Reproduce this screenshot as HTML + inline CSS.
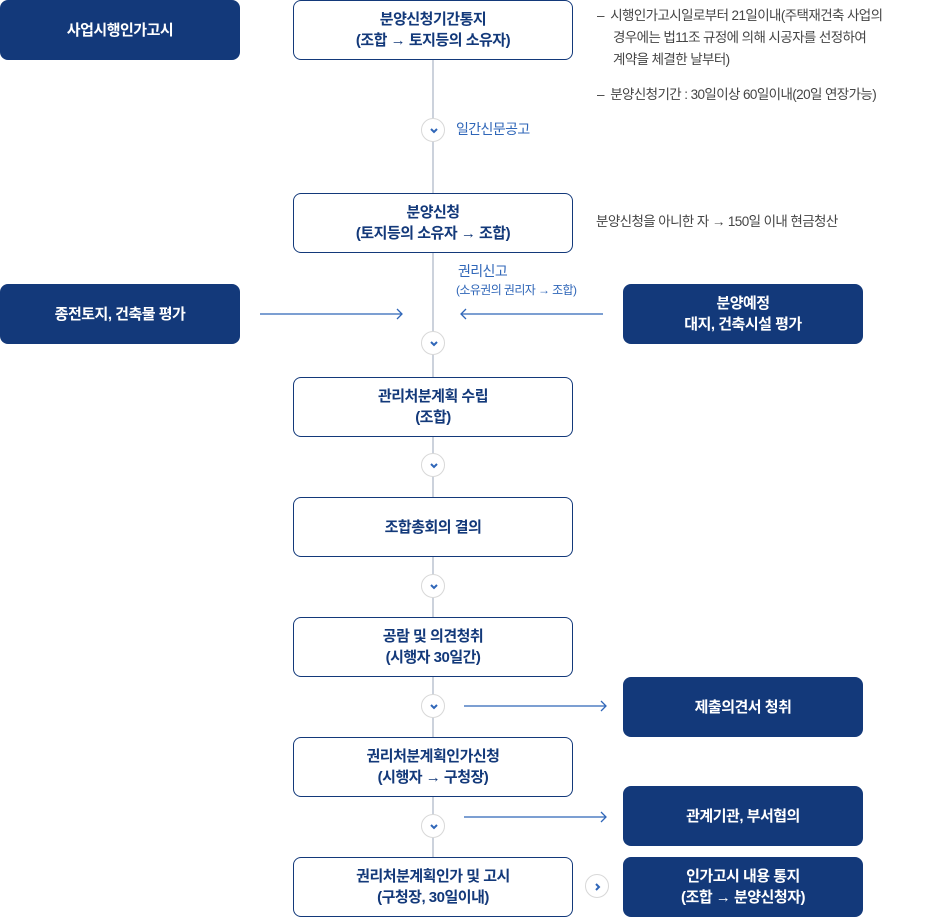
<!DOCTYPE html>
<html><head><meta charset="utf-8"><style>
body{margin:0;width:938px;height:917px;background:#fff;position:relative;overflow:hidden;font-family:"Liberation Sans","Noto Sans CJK KR",sans-serif;}
.b{position:absolute;box-sizing:border-box;border-radius:8px;display:flex;align-items:center;justify-content:center;text-align:center;font-weight:bold;font-size:15px;line-height:21px;letter-spacing:-0.5px}
.d{background:#13397a;color:#fff}
.w{background:#fff;border:1px solid #13397a;color:#13397a}
.c{position:absolute;width:24px;height:24px;border:1px solid #d8d8d8;border-radius:50%;background:#fff;box-sizing:border-box}
.c svg{position:absolute;left:6px;top:6px}
.t{position:absolute;font-size:13.5px;color:#444;line-height:22px;letter-spacing:-0.6px}
.bl{color:#2f66b8}
</style></head><body>
<svg style="position:absolute;left:0;top:0" width="938" height="917">
<line x1="433" y1="60" x2="433" y2="857" stroke="#9aa6b8" stroke-width="1"/>
<g stroke="#2f66b8" stroke-width="1.3" fill="none">
<line x1="260" y1="314" x2="402" y2="314"/><polyline points="397,309 402,314 397,319"/>
<line x1="461" y1="314" x2="603" y2="314"/><polyline points="466,309 461,314 466,319"/>
<line x1="464" y1="706" x2="606" y2="706"/><polyline points="601,701 606,706 601,711"/>
<line x1="464" y1="817" x2="606" y2="817"/><polyline points="601,812 606,817 601,822"/>
</g>
</svg>
<div class="b d" style="left:0;top:0;width:240px;height:60px">사업시행인가고시</div>
<div class="b d" style="left:0;top:284px;width:240px;height:60px">종전토지, 건축물 평가</div>
<div class="b d" style="left:623px;top:284px;width:240px;height:60px">분양예정<br>대지, 건축시설 평가</div>
<div class="b d" style="left:623px;top:677px;width:240px;height:60px">제출의견서 청취</div>
<div class="b d" style="left:623px;top:786px;width:240px;height:60px">관계기관, 부서협의</div>
<div class="b d" style="left:623px;top:857px;width:240px;height:60px">인가고시 내용 통지<br>(조합 → 분양신청자)</div>
<div class="b w" style="left:293px;top:0;width:280px;height:60px">분양신청기간통지<br>(조합 → 토지등의 소유자)</div>
<div class="b w" style="left:293px;top:193px;width:280px;height:60px">분양신청<br>(토지등의 소유자 → 조합)</div>
<div class="b w" style="left:293px;top:377px;width:280px;height:60px">관리처분계획 수립<br>(조합)</div>
<div class="b w" style="left:293px;top:497px;width:280px;height:60px">조합총회의 결의</div>
<div class="b w" style="left:293px;top:617px;width:280px;height:60px">공람 및 의견청취<br>(시행자 30일간)</div>
<div class="b w" style="left:293px;top:737px;width:280px;height:60px">권리처분계획인가신청<br>(시행자 → 구청장)</div>
<div class="b w" style="left:293px;top:857px;width:280px;height:60px">권리처분계획인가 및 고시<br>(구청장, 30일이내)</div>
<div class="c" style="left:421px;top:118px"><svg width="12" height="12"><polyline points="3,4 6,7 9,4" stroke="#2f66b8" stroke-width="2" fill="none"/></svg></div>
<div class="c" style="left:421px;top:331px"><svg width="12" height="12"><polyline points="3,4 6,7 9,4" stroke="#2f66b8" stroke-width="2" fill="none"/></svg></div>
<div class="c" style="left:421px;top:453px"><svg width="12" height="12"><polyline points="3,4 6,7 9,4" stroke="#2f66b8" stroke-width="2" fill="none"/></svg></div>
<div class="c" style="left:421px;top:574px"><svg width="12" height="12"><polyline points="3,4 6,7 9,4" stroke="#2f66b8" stroke-width="2" fill="none"/></svg></div>
<div class="c" style="left:421px;top:694px"><svg width="12" height="12"><polyline points="3,4 6,7 9,4" stroke="#2f66b8" stroke-width="2" fill="none"/></svg></div>
<div class="c" style="left:421px;top:814px"><svg width="12" height="12"><polyline points="3,4 6,7 9,4" stroke="#2f66b8" stroke-width="2" fill="none"/></svg></div>
<div class="c" style="left:585px;top:874px"><svg width="12" height="12"><polyline points="4,3 7,6 4,9" stroke="#2f66b8" stroke-width="2" fill="none"/></svg></div>
<div class="t bl" style="left:456px;top:118px;font-size:14px">일간신문공고</div>
<div class="t bl" style="left:458px;top:262px;font-size:14px;line-height:18px">권리신고</div>
<div class="t bl" style="left:456px;top:282px;font-size:12px;line-height:16px">(소유권의 권리자 → 조합)</div>
<div class="t" style="left:597px;top:5px">–&nbsp; 시행인가고시일로부터 21일이내(주택재건축 사업의</div>
<div class="t" style="left:613px;top:27px">경우에는 법11조 규정에 의해 시공자를 선정하여</div>
<div class="t" style="left:613px;top:49px">계약을 체결한 날부터)</div>
<div class="t" style="left:597px;top:84px">–&nbsp; 분양신청기간 : 30일이상 60일이내(20일 연장가능)</div>
<div class="t" style="left:596px;top:211px">분양신청을 아니한 자 → 150일 이내 현금청산</div>
</body></html>
